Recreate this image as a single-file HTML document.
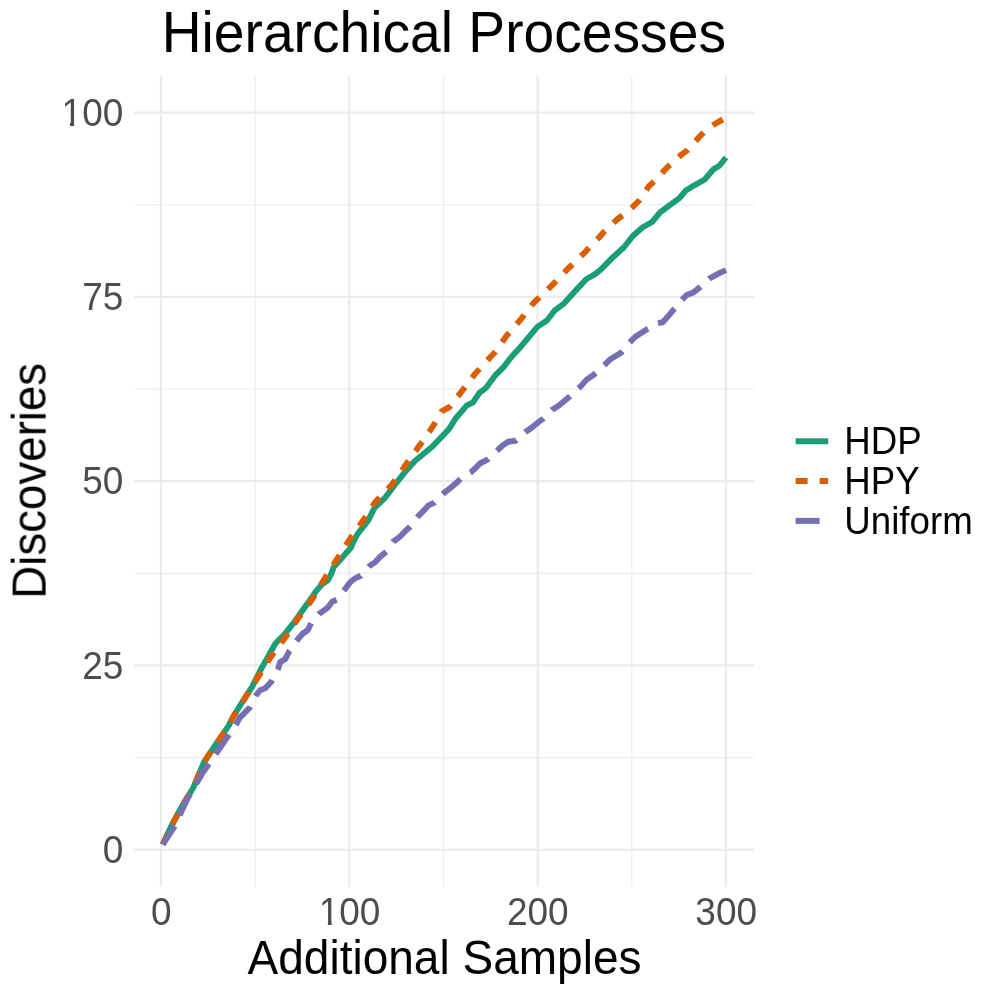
<!DOCTYPE html>
<html><head><meta charset="utf-8"><title>Hierarchical Processes</title>
<style>
html,body{margin:0;padding:0;background:#fff;}
svg{display:block;}
text{font-family:"Liberation Sans",sans-serif;}
</style></head>
<body>
<svg width="996" height="996" viewBox="0 0 996 996">
<rect width="996" height="996" fill="#fff"/>
<g id="grid">
<line x1="255.13" y1="76.0" x2="255.13" y2="886.7" stroke="#ebebeb" stroke-width="1.1"/>
<line x1="443.46" y1="76.0" x2="443.46" y2="886.7" stroke="#ebebeb" stroke-width="1.1"/>
<line x1="631.79" y1="76.0" x2="631.79" y2="886.7" stroke="#ebebeb" stroke-width="1.1"/>
<line x1="134.5" y1="757.62" x2="754.1" y2="757.62" stroke="#ebebeb" stroke-width="1.1"/>
<line x1="134.5" y1="573.33" x2="754.1" y2="573.33" stroke="#ebebeb" stroke-width="1.1"/>
<line x1="134.5" y1="389.03" x2="754.1" y2="389.03" stroke="#ebebeb" stroke-width="1.1"/>
<line x1="134.5" y1="204.75" x2="754.1" y2="204.75" stroke="#ebebeb" stroke-width="1.1"/>
<line x1="160.96" y1="76.0" x2="160.96" y2="886.7" stroke="#ebebeb" stroke-width="2.2"/>
<line x1="349.29" y1="76.0" x2="349.29" y2="886.7" stroke="#ebebeb" stroke-width="2.2"/>
<line x1="537.63" y1="76.0" x2="537.63" y2="886.7" stroke="#ebebeb" stroke-width="2.2"/>
<line x1="725.96" y1="76.0" x2="725.96" y2="886.7" stroke="#ebebeb" stroke-width="2.2"/>
<line x1="134.5" y1="849.76" x2="754.1" y2="849.76" stroke="#ebebeb" stroke-width="2.2"/>
<line x1="134.5" y1="665.47" x2="754.1" y2="665.47" stroke="#ebebeb" stroke-width="2.2"/>
<line x1="134.5" y1="481.18" x2="754.1" y2="481.18" stroke="#ebebeb" stroke-width="2.2"/>
<line x1="134.5" y1="296.89" x2="754.1" y2="296.89" stroke="#ebebeb" stroke-width="2.2"/>
<line x1="134.5" y1="112.60" x2="754.1" y2="112.60" stroke="#ebebeb" stroke-width="2.2"/>
</g>
<g id="lines" fill="none" stroke-width="5.9" stroke-linejoin="round" stroke-linecap="butt">
<path id="hdp" stroke="#1b9e77" d="M162.8,844.5 L170.1,828.5 L182.1,806.0 L193.4,787.5 L203.8,762.6 L214.3,746.6 L228.7,725.7 L233.7,715.8 L241.7,703.0 L252.1,686.9 L261.0,669.2 L268.2,656.4 L275.4,643.5 L284.3,634.7 L293.9,622.7 L303.5,609.0 L310.1,600.0 L316.1,591.2 L321.6,584.7 L328.1,580.0 L331.6,573.2 L333.7,567.1 L339.2,561.1 L345.2,554.1 L350.7,548.1 L354.2,540.0 L357.5,534.1 L368.2,520.4 L374.6,507.6 L384.3,498.7 L393.9,485.9 L403.5,473.8 L414.8,461.0 L422.8,454.5 L432.4,446.5 L442.1,436.4 L449.0,429.0 L455.6,418.5 L466.6,405.7 L473.0,402.4 L479.4,392.8 L485.9,388.0 L495.5,375.1 L503.5,367.1 L511.6,356.7 L521.2,346.2 L529.2,336.6 L537.3,326.9 L546.9,320.5 L554.5,310.7 L564.0,303.5 L575.0,291.3 L586.2,279.2 L594.3,274.6 L600.7,269.6 L613.5,256.7 L624.0,247.2 L632.8,236.0 L642.4,227.5 L652.1,222.0 L660.1,212.3 L669.8,205.1 L679.4,198.2 L685.5,190.8 L693.9,185.6 L705.1,179.2 L713.2,169.5 L719.6,165.5 L726.0,157.5"/>
<path id="hpy" stroke="#d95f02" stroke-dasharray="10.64 11.78 11.78 11.78 11.78 11.78 11.77 11.77 11.77 11.77 11.77 11.77 11.76 11.76 11.76 11.76 11.76 11.75 11.75 11.75 11.75 11.75 11.74 11.74 11.74 11.74 11.74 11.74 11.73 11.73 11.73 11.73 11.73 11.72 11.72 11.72 11.72 11.72 11.72 11.71 11.71 11.71 11.71 11.71 11.70 11.70 11.70 11.70 11.70 11.70 11.69 11.69 11.69 11.69 11.69 11.68 11.68 11.68 11.68 11.68 11.68 11.67 11.67 11.67 11.67 11.67 11.66 11.66 11.66 11.66 11.66 11.66 11.65 11.65 11.65 11.65 11.65 11.65 11.64 11.64 11.64 11.64 11.64 11.64" d="M162.8,844.5 L170.1,828.5 L182.1,806.0 L193.4,787.5 L203.8,762.6 L214.3,746.6 L228.7,725.7 L233.9,715.6 L245.9,696.7 L257.9,677.4 L270.6,657.2 L284.5,638.6 L298.0,618.6 L311.7,600.1 L323.7,580.0 L335.4,561.6 L348.9,540.5 L362.6,521.2 L375.4,501.9 L391.5,485.1 L405.1,465.8 L418.8,446.5 L429.6,431.4 L435.3,422.5 L441.7,411.3 L449.7,406.9 L461.8,391.2 L475.4,373.5 L490.7,356.7 L495.5,351.8 L505.9,336.6 L521.2,318.9 L534.0,302.5 L552.5,284.9 L568.6,268.0 L585.4,251.9 L589.4,247.1 L599.1,237.5 L603.9,231.8 L617.6,219.0 L623.2,215.0 L632.8,206.9 L639.2,200.5 L648.9,186.1 L655.3,180.4 L666.6,167.9 L681.8,154.3 L687.5,150.2 L699.5,136.6 L705.1,131.0 L714.0,124.5 L723.6,118.9 L726.0,118.0"/>
<path id="uni" stroke="#7570b3" stroke-dasharray="22.04 11.87 23.72 11.85 23.67 11.83 23.63 11.80 23.59 11.78 23.55 11.76 23.51 11.74 23.47 11.73 23.43 11.71 23.39 11.69 23.36 11.67 23.32 11.65 23.29 11.64 23.25 11.62 23.22 11.60 23.19 11.59 23.16 11.57 23.13 11.56 23.10 11.54 23.07 11.53 23.04 11.51 23.02 11.50 22.99 11.49 22.96 11.48 22.94 11.46" d="M162.8,844.5 L173.3,828.5 L187.8,798.0 L203.0,772.3 L223.1,743.4 L236.0,724.4 L240.1,717.3 L249.6,707.8 L256.1,695.3 L260.1,690.2 L265.2,688.2 L271.7,681.2 L278.2,668.7 L280.2,662.1 L285.2,659.1 L289.3,651.1 L297.3,640.0 L302.3,634.0 L307.8,630.0 L311.5,622.5 L319.1,613.8 L328.1,607.3 L332.1,601.8 L337.7,599.3 L344.2,590.2 L350.2,582.2 L355.2,578.2 L360.8,575.7 L369.3,566.1 L375.3,562.1 L380.3,556.6 L386.4,551.6 L393.4,541.5 L400.1,536.6 L405.1,531.2 L410.1,526.7 L418.2,516.2 L423.2,511.2 L428.2,505.6 L434.2,502.6 L444.3,492.6 L450.3,488.1 L456.3,483.1 L460.8,478.5 L471.1,472.2 L476.1,467.3 L480.1,463.3 L487.8,459.4 L497.7,450.2 L502.4,445.6 L508.2,441.7 L515.7,440.8 L525.8,431.7 L532.3,427.2 L538.3,422.2 L543.3,418.6 L552.4,409.5 L556.4,407.2 L559.8,404.8 L569.2,397.0 L579.7,387.4 L586.9,379.4 L594.1,374.5 L604.6,364.9 L610.4,359.2 L620.9,352.8 L629.7,342.4 L635.3,336.7 L646.6,329.5 L657.0,323.1 L662.7,322.3 L669.1,315.1 L673.9,309.4 L682.7,299.0 L686.7,295.0 L693.2,292.6 L700.4,286.9 L710.0,278.1 L718.9,273.3 L726.1,270.1"/>
</g>
<g id="legend" fill="none" stroke-width="6">
<line x1="795.6" y1="441.2" x2="828.2" y2="441.2" stroke="#1b9e77"/>
<line x1="795.6" y1="481.0" x2="828.2" y2="481.0" stroke="#d95f02" stroke-dasharray="12 12"/>
<line x1="795.6" y1="520.9" x2="828.2" y2="520.9" stroke="#7570b3" stroke-dasharray="24 24"/>
</g>
<g id="text" opacity="0.999">
<text transform="translate(123.30,863.06) scale(1,1.057)" text-anchor="end" font-size="37.0" fill="#4d4d4d">0</text>
<text transform="translate(123.30,678.77) scale(1,1.057)" text-anchor="end" font-size="37.0" fill="#4d4d4d">25</text>
<text transform="translate(123.30,494.48) scale(1,1.057)" text-anchor="end" font-size="37.0" fill="#4d4d4d">50</text>
<text transform="translate(123.30,310.19) scale(1,1.057)" text-anchor="end" font-size="37.0" fill="#4d4d4d">75</text>
<text transform="translate(123.30,125.90) scale(1,1.057)" text-anchor="end" font-size="37.0" fill="#4d4d4d">100</text>
<text transform="translate(161.16,924.50) scale(1,1.057)" text-anchor="middle" font-size="37.0" fill="#4d4d4d">0</text>
<text transform="translate(349.49,924.50) scale(1,1.057)" text-anchor="middle" font-size="37.0" fill="#4d4d4d">100</text>
<text transform="translate(537.83,924.50) scale(1,1.057)" text-anchor="middle" font-size="37.0" fill="#4d4d4d">200</text>
<text transform="translate(726.16,924.50) scale(1,1.057)" text-anchor="middle" font-size="37.0" fill="#4d4d4d">300</text>
<text transform="translate(161.70,51.80) scale(1,1.045)" text-anchor="start" font-size="55.2" fill="#000">Hierarchical Processes</text>
<text transform="translate(247.50,973.80) scale(1,1.045)" text-anchor="start" font-size="46.05" fill="#000">Additional Samples</text>
<text transform="translate(45.9,480.8) rotate(-90) scale(1,1.0542)" text-anchor="middle" font-size="45.65" fill="#000">Discoveries</text>
<text transform="translate(844.30,453.80) scale(1,1.045)" text-anchor="start" font-size="36.7" fill="#000">HDP</text>
<text transform="translate(844.30,493.90) scale(1,1.045)" text-anchor="start" font-size="36.7" fill="#000">HPY</text>
<text transform="translate(844.30,534.00) scale(1,1.045)" text-anchor="start" font-size="36.7" fill="#000">Uniform</text>
</g>
<g id="mask" fill="#fff">
<rect x="63.5" y="122.5" width="6.5" height="4"/><rect x="74.1" y="122.5" width="8" height="4"/>
<rect x="320.5" y="921.5" width="7.4" height="4"/><rect x="331.7" y="921.5" width="7" height="4"/>
</g>
</svg>
</body></html>
